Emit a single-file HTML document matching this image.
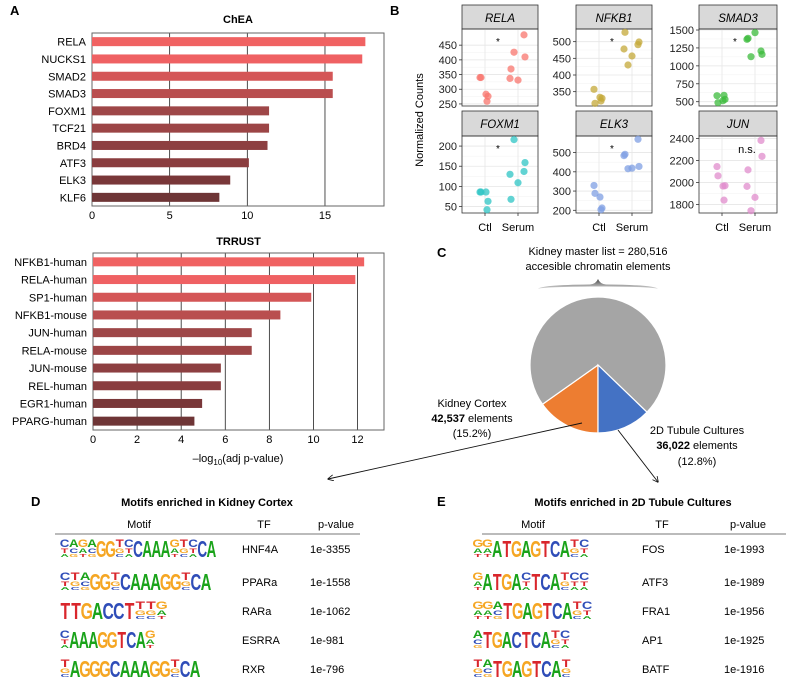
<!DOCTYPE html>
<html><head><meta charset="utf-8">
<style>
body{margin:0;background:#fff;}
svg{display:block;font-family:"Liberation Sans",Arial,sans-serif;}
</style></head>
<body>
<svg id="fig" width="786" height="681" viewBox="0 0 786 681">
<defs>
<marker id="ah" viewBox="0 0 10 10" refX="9" refY="5" markerWidth="7" markerHeight="7" orient="auto"><path d="M0,0 L10,5 L0,10" fill="none" stroke="#111" stroke-width="1.3"/></marker>
<linearGradient id="bg" x1="0" y1="0" x2="0" y2="1"><stop offset="0" stop-color="#444"/><stop offset="1" stop-color="#ddd"/></linearGradient>
</defs>
<g id="pa"></g>
<g id="pb"></g>
<g id="pc"></g>
<g id="pd"></g>
<g id="pe"></g>
</svg>
<script>
// ---------- Panel A data ----------
const cheaLabels=["RELA","NUCKS1","SMAD2","SMAD3","FOXM1","TCF21","BRD4","ATF3","ELK3","KLF6"];
const cheaValues=[17.6,17.4,15.5,15.5,11.4,11.4,11.3,10.1,8.9,8.2];
const cheaTicks=[0,5,10,15];
const trrustLabels=["NFKB1-human","RELA-human","SP1-human","NFKB1-mouse","JUN-human","RELA-mouse","JUN-mouse","REL-human","EGR1-human","PPARG-human"];
const trrustValues=[12.3,11.9,9.9,8.5,7.2,7.2,5.8,5.8,4.95,4.6];
const trrustTicks=[0,2,4,6,8,10,12];
// ---------- Panel B data ----------
const geneNames=["RELA","NFKB1","SMAD3","FOXM1","ELK3","JUN"];
const geneColors=["#f8766d","#c4a838","#3cbb3c","#2ec4c4","#7f9fe3","#e08ccc"];
const geneTicks=[[250,300,350,400,450],[350,400,450,500],[500,750,1000,1250,1500],[50,100,150,200],[200,300,400,500],[1800,2000,2200,2400]];
const geneRange=[[243,505],[307,538],[440,1514],[34,225],[186,586],[1722,2422]];
const ctlValues=[[340,340,283,276,259],[357,315,333,330,322],[584,486,514,533,589],[86,86,86,63,42],[329,288,269,212,203],[2144,2060,1967,1970,1839]];
const serumValues=[[369,337,331,426,410,485],[528,478,457,430,499,491],[1384,1370,1463,1128,1160,1207],[68,130,109,216,159,137],[491,484,419,416,428,569],[2114,1964,1864,1743,2237,2382]];
const ctlJitter=[-5,-4,1,3,2];
const serumJitter=[-7,-8,0,-4,7,6];
const sigLabels=["*","*","*","*","*","n.s."];
// ---------- Panel C data ----------
const pieValues=[72.0,15.2,12.8];
const pieColors=["#a5a5a5","#ed7d31","#4472c4"];
// ---------- Panel D/E data ----------
const cortexTF=["HNF4A","PPARa","RARa","ESRRA","RXR"];
const cortexP=["1e-3355","1e-1558","1e-1062","1e-981","1e-796"];
const cortexMotifs=["CAGAGGTCCAAAGTCCA","CTAGGTCAAAGGTCA","TTGACCTTTG","CAAAGGTCAG","TAGGGCAAAGGTCA"];
const cortexBig=["00001100111100011","000110111111011","1111111000","0111111110","01111111111011"];
const tubTF=["FOS","ATF3","FRA1","AP1","BATF"];
const tubP=["1e-1993","1e-1989","1e-1956","1e-1925","1e-1916"];
const tubMotifs=["GGATGAGTCATC","GATGACTCATCC","GGATGAGTCATC","ATGACTCATC","TATGAGTCAT"];
const tubBig=["001111111100","011110111000","000111111100","0111111100","0011111110"];

const NS="http://www.w3.org/2000/svg";
function mk(parent,tag,attrs,text){const e=document.createElementNS(NS,tag);for(const k in attrs)e.setAttribute(k,attrs[k]);if(text!==undefined)e.textContent=text;parent.appendChild(e);return e;}

// ---------- Panel A ----------
const pa=document.getElementById('pa');
let t=mk(pa,'text',{x:10,y:15,'font-size':13,'font-weight':'bold'},'A');


const barColors=["#f06262","#ef6163","#d45657","#b94e4f","#9e4748","#9c4546","#8d3f41","#8a3d3f","#793739","#6e3536"];
function barChart(g,labels,values,ticks,x0,x1,maxV,y0,y1,title,titleY,name){
  const xs=v=>x0+(v/maxV)*(x1-x0);
  const step=(y1-y0)/labels.length;
  let tt=mk(g,'text',{x:(x0+x1)/2,y:titleY,'text-anchor':'middle','font-size':11,'font-weight':'bold'},title);
  
  
  ticks.forEach((v,i)=>{
    if(i>0){const l=mk(g,'line',{x1:xs(v),x2:xs(v),y1:y0,y2:y1,stroke:'#222','stroke-width':0.8});
      
      }
    const tl=mk(g,'text',{x:xs(v),y:y1+13,'text-anchor':'middle','font-size':11},String(v));
    
    
  });
  const fr=mk(g,'rect',{x:x0,y:y0,width:x1-x0,height:y1-y0,fill:'none',stroke:'#666','stroke-width':1});
  
  
  labels.forEach((lab,i)=>{
    const cy=y0+step*(i+0.5);
    const b=mk(g,'rect',{x:x0,y:cy-4.5,width:xs(values[i])-x0,height:9,fill:barColors[i]});
    
    
    const l=mk(g,'text',{x:x0-6,y:cy+4,'text-anchor':'end','font-size':11},lab);
    
    
  });
}
barChart(pa,cheaLabels,cheaValues,cheaTicks,92,384,18.8,33,206,'ChEA',23,'chea');
barChart(pa,trrustLabels,trrustValues,trrustTicks,93,384,13.2,253,430,'TRRUST',245,'trrust');
t=mk(pa,'text',{x:238,y:462,'text-anchor':'middle','font-size':11},'');


t.innerHTML='–log<tspan font-size="8" dy="3">10</tspan><tspan dy="-3">(adj p-value)</tspan>';

// ---------- Panel B ----------
const pb=document.getElementById('pb');
t=mk(pb,'text',{x:390,y:15,'font-size':13,'font-weight':'bold'},'B');


const facetX=[462,576,699];
const facetW=[76,76,78];
const rowStrip=[5,111];
const rowTop=[29,136];
const rowBot=[106,213];
geneNames.forEach((gname,i)=>{
  const col=i%3,row=Math.floor(i/3);
  const fx=facetX[col],fw=facetW[col],top=rowTop[row],bot=rowBot[row];
  const [lo,hi]=geneRange[i];
  const ys=v=>bot-(v-lo)/(hi-lo)*(bot-top);
  const cx=[fx+23,fx+56];
  const g=mk(pb,'g',{});
  
  
  const s=mk(g,'rect',{x:fx,y:rowStrip[row],width:fw,height:top-rowStrip[row],fill:'#d9d9d9',stroke:'#333','stroke-width':0.8});
  
  
  const st=mk(g,'text',{x:fx+fw/2,y:rowStrip[row]+17,'text-anchor':'middle','font-size':11.5,'font-style':'italic'},gname);
  
  
  for(let k=0;k<geneTicks[i].length;k++){
    const v=geneTicks[i][k];
    const yy=ys(v);
    if(yy>=top&&yy<=bot){
      const gl=mk(g,'line',{x1:fx,x2:fx+fw,y1:yy,y2:yy,stroke:'#e6e6e6','stroke-width':0.8});
      
      
    }
    if(k>0){const m=ys((v+geneTicks[i][k-1])/2);
      if(m>=top&&m<=bot){const ml=mk(g,'line',{x1:fx,x2:fx+fw,y1:m,y2:m,stroke:'#f2f2f2','stroke-width':0.5});
        
        }}
    const tk=mk(g,'line',{x1:fx-3,x2:fx,y1:yy,y2:yy,stroke:'#333','stroke-width':0.8});
    
    
    const tl=mk(g,'text',{x:fx-5,y:yy+4,'text-anchor':'end','font-size':11,fill:'#222'},String(v));
    
    
  }
  cx.forEach(x=>{const vl=mk(g,'line',{x1:x,x2:x,y1:top,y2:bot,stroke:'#e6e6e6','stroke-width':0.8});
    
    
    if(row===1){const xt=mk(g,'line',{x1:x,x2:x,y1:bot,y2:bot+3,stroke:'#333','stroke-width':0.8});
      
      }});
  const fr=mk(g,'rect',{x:fx,y:top,width:fw,height:bot-top,fill:'none',stroke:'#333','stroke-width':0.8});
  
  
  ctlValues[i].forEach((v,j)=>{const p=mk(g,'circle',{cx:cx[0]+ctlJitter[j],cy:ys(v),r:3.6,fill:geneColors[i],'fill-opacity':0.75});
    
    });
  serumValues[i].forEach((v,j)=>{const p=mk(g,'circle',{cx:cx[1]+serumJitter[j],cy:ys(v),r:3.6,fill:geneColors[i],'fill-opacity':0.75});
    
    });
  const sg=mk(g,'text',{x:fx+(sigLabels[i]==='*'?36:48),y:top+(sigLabels[i]==='*'?16:17),'text-anchor':'middle','font-size':sigLabels[i]==='*'?10:11},sigLabels[i]);
  
  
  if(row===1){
    const c1=mk(g,'text',{x:cx[0],y:bot+18,'text-anchor':'middle','font-size':11},'Ctl');
    
    
    const c2=mk(g,'text',{x:cx[1],y:bot+18,'text-anchor':'middle','font-size':11},'Serum');
    
    
  }
});
t=mk(pb,'text',{x:0,y:0,'text-anchor':'middle','font-size':11,transform:'translate(423,120) rotate(-90)'},'Normalized Counts');



// ---------- Panel C ----------
const pc=document.getElementById('pc');
t=mk(pc,'text',{x:437,y:257,'font-size':13,'font-weight':'bold'},'C');


t=mk(pc,'text',{x:598,y:255,'text-anchor':'middle','font-size':11},'Kidney master list = 280,516');


t=mk(pc,'text',{x:598,y:270,'text-anchor':'middle','font-size':11},'accesible chromatin elements');


t=mk(pc,'path',{d:'M538,289 Q540,285 590,284.5 Q596,284 598,279 Q600,284 606,284.5 Q656,285 658,289 Q656,287 606,286.5 L590,286.5 Q540,287 538,289 Z',fill:'url(#bg)'});


const pcx=598,pcy=365,pr=68;
const total=pieValues.reduce((a,b)=>a+b,0);
const sliceNames=["pie-slice-other","pie-slice-kidney-cortex","pie-slice-2d-tubule"];
let ang=Math.PI/2; // straight down; orange goes clockwise (toward left), then gray, then blue
[1,0,2].forEach(i=>{
  const v=pieValues[i];
  const a0=ang,a1=ang+v/total*2*Math.PI;
  const x0=pcx+pr*Math.cos(a0),y0=pcy+pr*Math.sin(a0),x1=pcx+pr*Math.cos(a1),y1=pcy+pr*Math.sin(a1);
  const large=(a1-a0)>Math.PI?1:0;
  const p=mk(pc,'path',{d:`M${pcx},${pcy} L${x0},${y0} A${pr},${pr} 0 ${large} 1 ${x1},${y1} Z`,fill:pieColors[i],stroke:'#fff','stroke-width':1.2});
  
  
  ang=a1;
});
[['Kidney Cortex',472,407,false],['elements',472,422,true],['(15.2%)',472,437,false],['2D Tubule Cultures',697,434,false],['elements',697,449,true],['(12.8%)',697,465,false]].forEach((d,i)=>{
  const e=mk(pc,'text',{x:d[1],y:d[2],'text-anchor':'middle','font-size':11});
  if(d[3]){e.innerHTML='<tspan font-weight="bold">'+(i<3?'42,537':'36,022')+'</tspan> elements';}else e.textContent=d[0];
  
  
});
t=mk(pc,'line',{x1:582,y1:423,x2:328,y2:479,stroke:'#111','stroke-width':0.9,'marker-end':'url(#ah)'});


t=mk(pc,'line',{x1:618,y1:430,x2:658,y2:482,stroke:'#111','stroke-width':0.9,'marker-end':'url(#ah)'});



// ---------- Panels D/E ----------
const LC={A:'#1aa31a',C:'#2f4db8',G:'#f5a623',T:'#d9262c'};
const alt={A:'C',C:'T',G:'A',T:'G'};
const alt2={A:'G',C:'A',G:'T',T:'C'};
function motif(g,seq,big,x,yc,w){
  const cw=w/seq.length;
  for(let i=0;i<seq.length;i++){
    const ch=seq[i];
    const cxp=x+cw*(i+0.5);
    if(big[i]==='1'){
      const e=mk(g,'text',{x:0,y:0,'font-size':14,'font-weight':'bold',fill:LC[ch],'text-anchor':'middle',transform:`translate(${cxp},${yc+8}) scale(${cw/9.5},1.65)`},ch);
      
      
    }else{
      const e=mk(g,'text',{x:0,y:0,'font-size':8,'font-weight':'bold',fill:LC[ch],'text-anchor':'middle',transform:`translate(${cxp},${yc-2}) scale(${cw/5.5},1.35)`},ch);
      
      
      const e2=mk(g,'text',{x:0,y:0,'font-size':6,'font-weight':'bold',fill:LC[alt[ch]],'text-anchor':'middle',transform:`translate(${cxp},${yc+4}) scale(${cw/4.5},1.1)`},alt[ch]);
      
      
      const e3=mk(g,'text',{x:0,y:0,'font-size':5,'font-weight':'bold',fill:LC[alt2[ch]],'text-anchor':'middle',transform:`translate(${cxp},${yc+8}) scale(${cw/4},0.9)`},alt2[ch]);
      
      
    }
  }
}
function table(id,letter,lx,title,tcx,hdr,lineX0,lineX1,tfX,pX,tfs,ps,motifs,bigs,mx,mws,panel){
  const g=document.getElementById(id);
  let e=mk(g,'text',{x:lx,y:506,'font-size':13,'font-weight':'bold'},letter);
  
  
  e=mk(g,'text',{x:tcx,y:506,'text-anchor':'middle','font-size':11,'font-weight':'bold'},title);
  
  
  ['Motif','TF','p-value'].forEach((h,i)=>{const x=mk(g,'text',{x:hdr[i],y:528,'text-anchor':'middle','font-size':11},h);
    
    });
  e=mk(g,'line',{x1:lineX0,x2:lineX1,y1:534,y2:534,stroke:'#777','stroke-width':1});
  
  
  const rows=[549,582,611,640,669];
  tfs.forEach((tf,i)=>{
    const r=mk(g,'g',{});
    
    
    motif(r,motifs[i],bigs[i],mx,rows[i],mws[i]);
    const a=mk(r,'text',{x:tfX,y:rows[i]+4,'font-size':11},tf);
    
    
    const b=mk(r,'text',{x:pX,y:rows[i]+4,'font-size':11},ps[i]);
    
    
  });
}
table('pd','D',31,'Motifs enriched in Kidney Cortex',207,[139,264,336],55,360,242,310,cortexTF,cortexP,cortexMotifs,cortexBig,60,[156,151,107,95,140]);
table('pe','E',437,'Motifs enriched in 2D Tubule Cultures',633,[533,662,748],482,786,642,724,tubTF,tubP,tubMotifs,tubBig,473,[116,116,119,97,98]);
</script>
</body></html>
